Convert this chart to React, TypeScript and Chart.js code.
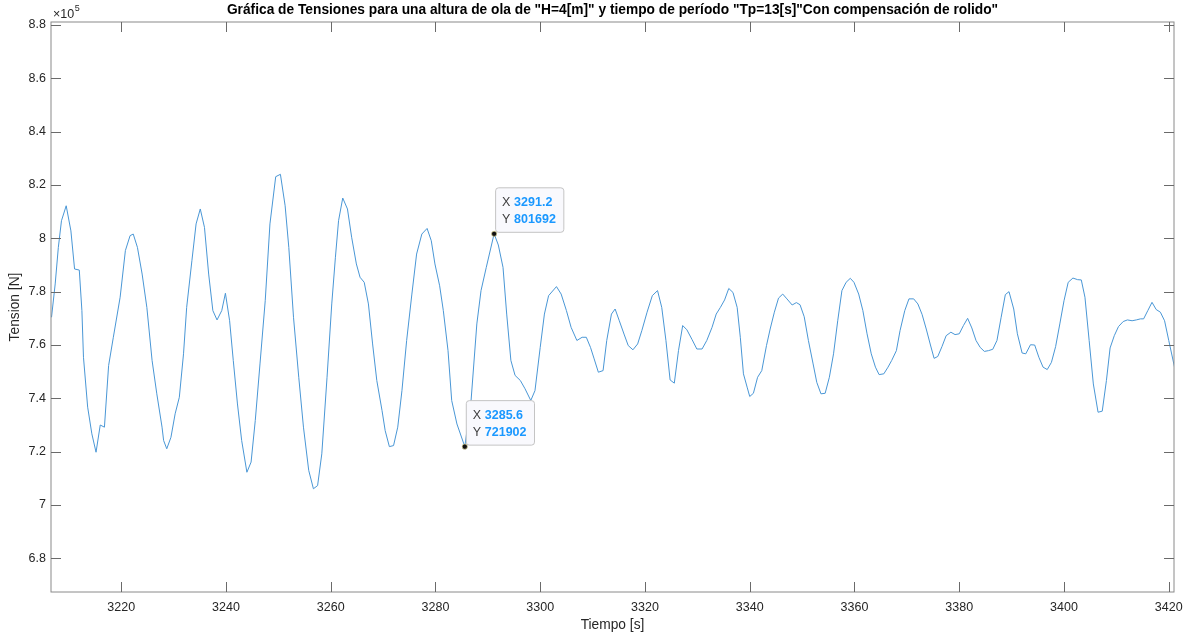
import React, { useEffect, useRef } from "react";
import { Chart, registerables } from "chart.js";

Chart.register(...registerables);

const titleText =
  'Gráfica de Tensiones para una altura de ola de "H=4[m]" y tiempo de período "Tp=13[s]"Con compensación de rolido"';
const xLabel = "Tiempo [s]";
const yLabel = "Tension [N]";

const tData = [
  3206.7, 3207.4, 3208.0, 3208.6, 3209.5, 3210.4, 3211.1, 3212.0, 3212.5, 3212.8,
  3213.6, 3214.4, 3215.2, 3216.0, 3216.8, 3217.6, 3218.5, 3219.8, 3220.8, 3221.7,
  3222.3, 3223.1, 3224.0, 3224.9, 3225.9, 3226.8, 3227.8, 3228.1, 3228.7, 3229.5,
  3230.3, 3231.1, 3231.9, 3232.5, 3233.5, 3234.3, 3235.1, 3235.9, 3236.7, 3237.5,
  3238.3, 3239.2, 3239.9, 3240.7, 3241.4, 3242.2, 3243.0, 3244.0, 3244.8, 3245.6,
  3246.5, 3247.5, 3248.4, 3249.5, 3250.4, 3251.3, 3252.0, 3252.9, 3253.9, 3254.8,
  3255.8, 3256.7, 3257.5, 3258.3, 3259.3, 3260.2, 3260.9, 3261.5, 3262.3, 3263.2,
  3264.0, 3264.9, 3265.6, 3266.4, 3267.2, 3268.0, 3268.8, 3269.8, 3270.4, 3271.2,
  3272.0, 3272.8, 3273.6, 3274.5, 3275.5, 3276.4, 3277.4, 3278.4, 3279.2, 3279.9,
  3280.8, 3281.5, 3282.4, 3283.1, 3284.1, 3285.6, 3286.8, 3287.9, 3288.7, 3289.7,
  3291.2, 3292.0, 3292.9, 3293.6, 3294.4, 3295.2, 3296.2, 3297.1, 3298.2, 3299.0,
  3300.0, 3300.8, 3301.6, 3303.1, 3304.0, 3305.0, 3305.9, 3307.0, 3308.0, 3308.8,
  3309.6, 3310.3, 3311.1, 3312.0, 3312.7, 3313.6, 3314.3, 3315.1, 3316.0, 3316.8,
  3317.7, 3318.6, 3319.4, 3320.4, 3321.4, 3322.4, 3323.2, 3324.0, 3324.8, 3325.6,
  3326.4, 3327.2, 3328.0, 3329.0, 3329.9, 3330.9, 3331.8, 3332.8, 3333.6, 3334.4,
  3335.2, 3336.0, 3336.8, 3337.6, 3338.2, 3338.8, 3339.5, 3340.0, 3340.7, 3341.5,
  3342.3, 3343.2, 3343.9, 3344.7, 3345.5, 3346.3, 3347.1, 3348.1, 3348.9, 3349.6,
  3350.4, 3351.2, 3352.1, 3352.8, 3353.6, 3354.4, 3355.2, 3356.0, 3356.8, 3357.6,
  3358.4, 3359.2, 3359.9, 3360.8, 3361.6, 3362.4, 3363.2, 3364.0, 3364.7, 3365.6,
  3366.4, 3367.1, 3368.0, 3368.7, 3369.6, 3370.4, 3371.3, 3372.1, 3372.9, 3373.7,
  3374.5, 3375.2, 3375.9, 3376.7, 3377.5, 3378.4, 3379.2, 3380.0, 3380.8, 3381.6,
  3382.4, 3383.2, 3384.0, 3384.8, 3385.6, 3386.4, 3387.2, 3388.0, 3388.8, 3389.5,
  3390.4, 3391.1, 3392.0, 3392.7, 3393.6, 3394.4, 3395.2, 3396.0, 3396.8, 3397.6,
  3398.4, 3399.2, 3400.0, 3400.8, 3401.7, 3402.6, 3403.3, 3404.0, 3404.8, 3405.6,
  3406.5, 3407.3, 3408.1, 3408.8, 3409.6, 3410.4, 3411.3, 3412.1, 3413.0, 3413.8,
  3414.6, 3415.2, 3416.0, 3416.8, 3417.6, 3418.4, 3419.2, 3420.0, 3421.1,
];

const tensionData = [
  770400, 782900, 796600, 806600, 812200, 802800, 788500, 788100, 772900, 755400,
  736700, 726700, 719800, 730000, 729200, 752300, 762900, 777900, 795400, 801000,
  801600, 796600, 786600, 774100, 754200, 741700, 729200, 724200, 721100, 725400,
  734200, 740400, 756700, 774100, 791600, 805400, 811000, 804100, 786600, 772900,
  769400, 772900, 779400, 769100, 754200, 737900, 724200, 712300, 716100, 731700,
  752900, 776600, 805400, 823100, 824000, 812200, 796600, 770400, 747900, 729200,
  713000, 706100, 707300, 719200, 747900, 775400, 792900, 806600, 815100, 811000,
  800400, 790400, 785400, 783500, 775400, 760400, 746700, 735400, 727900, 721900,
  722300, 729200, 742900, 761700, 779100, 794100, 801600, 803700, 799100, 790400,
  782200, 772900, 757900, 739200, 730400, 721902, 739200, 767900, 780400, 789100,
  801692, 797500, 789100, 771600, 754200, 748600, 746700, 743600, 739200, 742900,
  759100, 771600, 778500, 781900, 779100, 772900, 766600, 761700, 762900, 762900,
  759100, 754800, 749800, 750400, 761700, 771600, 773500, 769100, 764100, 759800,
  758200, 760400, 765400, 772300, 778500, 780400, 774100, 761700, 746900, 745700,
  757900, 767300, 765700, 762000, 758500, 758500, 761700, 766600, 771600, 774100,
  776900, 781200, 779700, 774100, 762900, 749200, 744200, 740700, 741900, 747900,
  750400, 759800, 766000, 772300, 777600, 779100, 777300, 775000, 775900, 775100,
  770600, 761700, 752900, 746000, 741700, 741900, 747900, 756700, 769100, 780400,
  783500, 785000, 783500, 779100, 772900, 764200, 756700, 751700, 748900, 749200,
  751700, 754200, 757900, 765400, 772900, 777300, 777300, 775400, 771500, 766000,
  760000, 755000, 755700, 759400, 763500, 764800, 763900, 764200, 767300, 770000,
  766400, 761700, 759100, 757600, 757900, 758400, 761700, 770400, 778900, 780000,
  773500, 764200, 757000, 756700, 760100, 760000, 755400, 751700, 750800, 753500,
  759400, 767900, 776600, 783500, 785100, 784500, 784400, 777900, 761700, 745400,
  734800, 735200, 746700, 758900, 763500, 766900, 768800, 769400, 769100, 769400,
  769800, 769800, 772900, 776000, 773300, 772300, 769100, 761700, 751700,
];

const xTicks = [3220, 3240, 3260, 3280, 3300, 3320, 3340, 3360, 3380, 3400, 3420];
const yTicks = [680000, 700000, 720000, 740000, 760000, 780000, 800000, 820000, 840000, 860000, 880000];

const tipX = [3291.2, 3285.6];
const tipY = [801692, 721902];

const xMin = 3206.6;
const xMax = 3421.0;
const yMin = 667400;
const yMax = 881100;

const FONT = '"Liberation Sans", Arial, Helvetica, sans-serif';
const TEXT = "#262626";

const decorPlugin = {
  id: "decor",
  beforeDraw(chart: any) {
    const ctx = chart.ctx;
    ctx.save();
    ctx.fillStyle = "#ffffff";
    ctx.fillRect(0, 0, chart.width, chart.height);
    ctx.restore();
  },
  afterDraw(chart: any) {
    const ctx = chart.ctx;
    const a = chart.chartArea;
    const xs = chart.scales.x;
    const ys = chart.scales.y;
    ctx.save();
    // box
    ctx.strokeStyle = "#8a8a8a";
    ctx.lineWidth = 1;
    ctx.strokeRect(a.left, a.top, a.right - a.left, a.bottom - a.top);
    // inward ticks
    ctx.strokeStyle = "#6a6a6a";
    ctx.beginPath();
    const tl = 10;
    xs.ticks.forEach((t: any) => {
      const px = Math.round(xs.getPixelForValue(t.value)) + 0.5;
      ctx.moveTo(px, a.bottom);
      ctx.lineTo(px, a.bottom - tl);
      ctx.moveTo(px, a.top);
      ctx.lineTo(px, a.top + tl);
    });
    ys.ticks.forEach((t: any) => {
      const py = Math.round(ys.getPixelForValue(t.value)) + 0.5;
      ctx.moveTo(a.left, py);
      ctx.lineTo(a.left + tl, py);
      ctx.moveTo(a.right, py);
      ctx.lineTo(a.right - tl, py);
    });
    ctx.stroke();

    // title
    ctx.fillStyle = "#000000";
    ctx.font = `bold 13.75px ${FONT}`;
    ctx.textAlign = "center";
    ctx.textBaseline = "middle";
    ctx.fillText(titleText, (a.left + a.right) / 2, 10);

    // axis labels
    ctx.fillStyle = TEXT;
    ctx.font = `13.75px ${FONT}`;
    ctx.fillText(xLabel, (a.left + a.right) / 2, 625);
    ctx.save();
    ctx.translate(15, (a.top + a.bottom) / 2);
    ctx.rotate(-Math.PI / 2);
    ctx.fillText(yLabel, 0, 0);
    ctx.restore();

    // exponent
    ctx.textAlign = "left";
    ctx.font = `12.5px ${FONT}`;
    ctx.fillText("\u00d710", a.left + 2, 15);
    const w = ctx.measureText("\u00d710").width;
    ctx.font = `9px ${FONT}`;
    ctx.fillText("5", a.left + 2 + w + 0.5, 9);

    // data tips
    for (let i = 0; i < tipX.length; i++) {
      const px = xs.getPixelForValue(tipX[i]);
      const py = ys.getPixelForValue(tipY[i]);
      const xs1 = tipX[i].toFixed(1);
      const ys1 = String(tipY[i]);
      ctx.font = `bold 12.5px ${FONT}`;
      const vw = Math.max(ctx.measureText(xs1).width, ctx.measureText(ys1).width);
      const bx = px + 1.5;
      const bw = 18.5 + vw + 8;
      const bh = 44.5;
      const by = py - 1.5 - bh;
      ctx.beginPath();
      (ctx as any).roundRect(bx, by, bw, bh, 3);
      ctx.fillStyle = "#f9f9fd";
      ctx.fill();
      ctx.strokeStyle = "#c4c4c4";
      ctx.lineWidth = 1;
      ctx.stroke();
      ctx.textBaseline = "middle";
      ctx.textAlign = "left";
      ctx.font = `12.5px ${FONT}`;
      ctx.fillStyle = "#404040";
      ctx.fillText("X", bx + 6.5, by + 15);
      ctx.fillText("Y", bx + 6.5, by + 31.5);
      ctx.font = `bold 12.5px ${FONT}`;
      ctx.fillStyle = "#1a98ff";
      ctx.fillText(xs1, bx + 18.5, by + 15);
      ctx.fillText(ys1, bx + 18.5, by + 31.5);
      // marker
      ctx.beginPath();
      ctx.arc(px, py, 2.6, 0, Math.PI * 2);
      ctx.fillStyle = "#111111";
      ctx.fill();
      ctx.strokeStyle = "rgba(230,220,150,0.8)";
      ctx.lineWidth = 0.8;
      ctx.stroke();
    }
    ctx.restore();
  },
};

export default function App() {
  const ref = useRef<HTMLCanvasElement | null>(null);
  useEffect(() => {
    if (!ref.current) return;
    const points = tData.map((t, i) => ({ x: t, y: tensionData[i] }));
    const chart = new Chart(ref.current, {
      type: "line",
      data: {
        datasets: [
          {
            data: points,
            borderColor: "#4a97d6",
            borderWidth: 1,
            pointRadius: 0,
            tension: 0,
            fill: false,
          },
        ],
      },
      options: {
        animation: false,
        responsive: false,
        devicePixelRatio: 1,
        layout: { padding: { top: 22, right: 12, left: 0, bottom: 0 } },
        plugins: {
          legend: { display: false },
          tooltip: { enabled: false },
          title: { display: false },
        },
        events: [],
        scales: {
          x: {
            type: "linear",
            min: xMin,
            max: xMax,
            grid: { display: false, drawTicks: false },
            border: { display: false },
            afterBuildTicks: (s: any) => {
              s.ticks = xTicks.map((v) => ({ value: v }));
            },
            ticks: {
              maxRotation: 0,
              autoSkip: false,
              padding: 8,
              color: TEXT,
              font: { family: FONT, size: 12.5 },
              callback: (v: any) => String(v),
            },
            afterFit: (s: any) => {
              s.height = 45;
              s.paddingLeft = 0;
              s.paddingRight = 0;
            },
          },
          y: {
            type: "linear",
            min: yMin,
            max: yMax,
            grid: { display: false, drawTicks: false },
            border: { display: false },
            afterBuildTicks: (s: any) => {
              s.ticks = yTicks.map((v) => ({ value: v }));
            },
            ticks: {
              autoSkip: false,
              padding: 5,
              color: TEXT,
              font: { family: FONT, size: 12.5 },
              callback: (v: any) => String(Math.round(v / 10000) / 10),
            },
            afterFit: (s: any) => {
              s.width = 51;
              s.paddingTop = 0;
              s.paddingBottom = 0;
            },
          },
        },
      },
      plugins: [decorPlugin],
    });
    return () => chart.destroy();
  }, []);
  return (
    <div style={{ position: "fixed", left: 0, top: 0, width: 1186, height: 637, background: "#fff" }}>
      <canvas ref={ref} width={1186} height={637} style={{ display: "block" }} />
    </div>
  );
}
